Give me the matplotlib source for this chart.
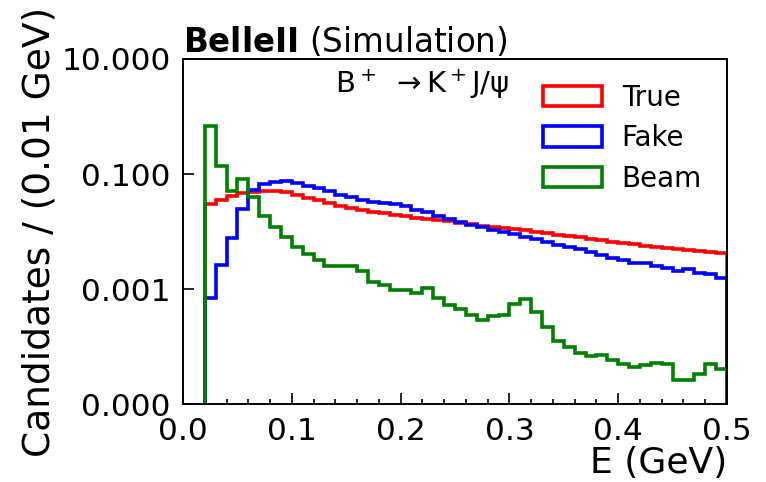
import numpy as np
import matplotlib.pyplot as plt
from matplotlib.ticker import FixedLocator, MultipleLocator, FormatStrFormatter

# Bin edges (0.01 GeV bins from 0.02 to 0.50)
edges = np.round(np.arange(0.02, 0.5001, 0.01), 2)

# Candidates / (0.01 GeV)
true_vals = [0.0304, 0.0357, 0.0407, 0.0466, 0.0491, 0.0501, 0.0501, 0.0491,
             0.0435, 0.0382, 0.0347, 0.0313, 0.0280, 0.0256, 0.0239, 0.0223,
             0.0210, 0.0196, 0.0183, 0.0172, 0.0164, 0.0157, 0.0150, 0.0142,
             0.0137, 0.0126, 0.0120, 0.0115, 0.0111, 0.0105, 0.0100, 0.0094,
             0.0088, 0.0085, 0.0080, 0.0074, 0.0071, 0.0067, 0.0063, 0.0061,
             0.0057, 0.0054, 0.0052, 0.0050, 0.0048, 0.0046, 0.0045, 0.0042]
fake_vals = [0.00070, 0.00265, 0.0077, 0.0246, 0.0532, 0.0676, 0.0732, 0.0753,
             0.0695, 0.0624, 0.0569, 0.0497, 0.0435, 0.0397, 0.0357, 0.0333,
             0.0320, 0.0304, 0.0273, 0.0239, 0.0215, 0.0188, 0.0165, 0.0144,
             0.0130, 0.0120, 0.0108, 0.0100, 0.0092, 0.0082, 0.0074, 0.0067,
             0.0059, 0.0054, 0.0050, 0.0045, 0.0040, 0.0035, 0.0032, 0.0029,
             0.0028, 0.0025, 0.0023, 0.0021, 0.0022, 0.0019, 0.00185, 0.00156]
beam_vals = [0.668, 0.135, 0.0497, 0.0825, 0.0397, 0.0190, 0.0120, 0.0080,
             0.0055, 0.0041, 0.0032, 0.00255, 0.00248, 0.00248, 0.00211, 0.00136,
             0.00117, 0.00098, 0.00098, 0.00086, 0.00104, 0.00070, 0.00054, 0.00045,
             0.00036, 0.00029, 0.00034, 0.00036, 0.00056, 0.00068, 0.00040, 0.000225,
             0.000124, 0.000101, 0.000078, 0.000070, 0.000071, 0.000059, 0.000051, 0.000044,
             0.0000475, 0.000052, 0.000050, 0.0000265, 0.000026, 0.000034, 0.000051, 0.0000405]

labels = ['True', 'Fake', 'Beam']
colors = ['#ff0000', '#0000ff', '#008000']

fig = plt.figure(figsize=(7.66, 4.82), dpi=100)
ax = fig.add_axes([0.239, 0.161, 0.710, 0.717])

centers = 0.5 * (edges[:-1] + edges[1:])
for vals, lab, col in zip([true_vals, fake_vals, beam_vals], labels, colors):
    ax.hist(centers, bins=edges, weights=vals, histtype='step', log=True,
            color=col, linewidth=2.6, label=lab)

ax.set_xlim(0, 0.5)
ax.set_ylim(1e-5, 10)

ax.xaxis.set_major_locator(MultipleLocator(0.1))
ax.xaxis.set_minor_locator(MultipleLocator(0.02))
ax.xaxis.set_major_formatter(FormatStrFormatter('%.1f'))
ax.yaxis.set_major_locator(FixedLocator([1e-5, 1e-3, 1e-1, 10]))
ax.yaxis.set_minor_locator(FixedLocator([]))
ax.yaxis.set_major_formatter(FormatStrFormatter('%.3f'))

ax.tick_params(which='both', direction='in', labelsize=22.5, pad=9,
               top=False, right=False, width=1.2)
ax.tick_params(which='major', length=8)
ax.tick_params(which='minor', length=3.5)
for sp in ax.spines.values():
    sp.set_linewidth(1.4)

ax.set_xlabel('E (GeV)', fontsize=26, loc='right', labelpad=0)
ax.set_ylabel('Candidates / (0.01 GeV)', fontsize=27, labelpad=3)

ax.set_title(r'$\bf{BelleII}$ (Simulation)', loc='left', fontsize=23.5, pad=4)
ax.text(0.28, 0.975, r'B$^+$ $\rightarrow$K$^+$J/ψ', transform=ax.transAxes,
        fontsize=21, ha='left', va='top')

ax.legend(loc='upper right', frameon=False, fontsize=20, handlelength=2.15,
          handleheight=0.75, labelspacing=0.45, handletextpad=0.7)

fig.savefig('out.png', dpi=100)
